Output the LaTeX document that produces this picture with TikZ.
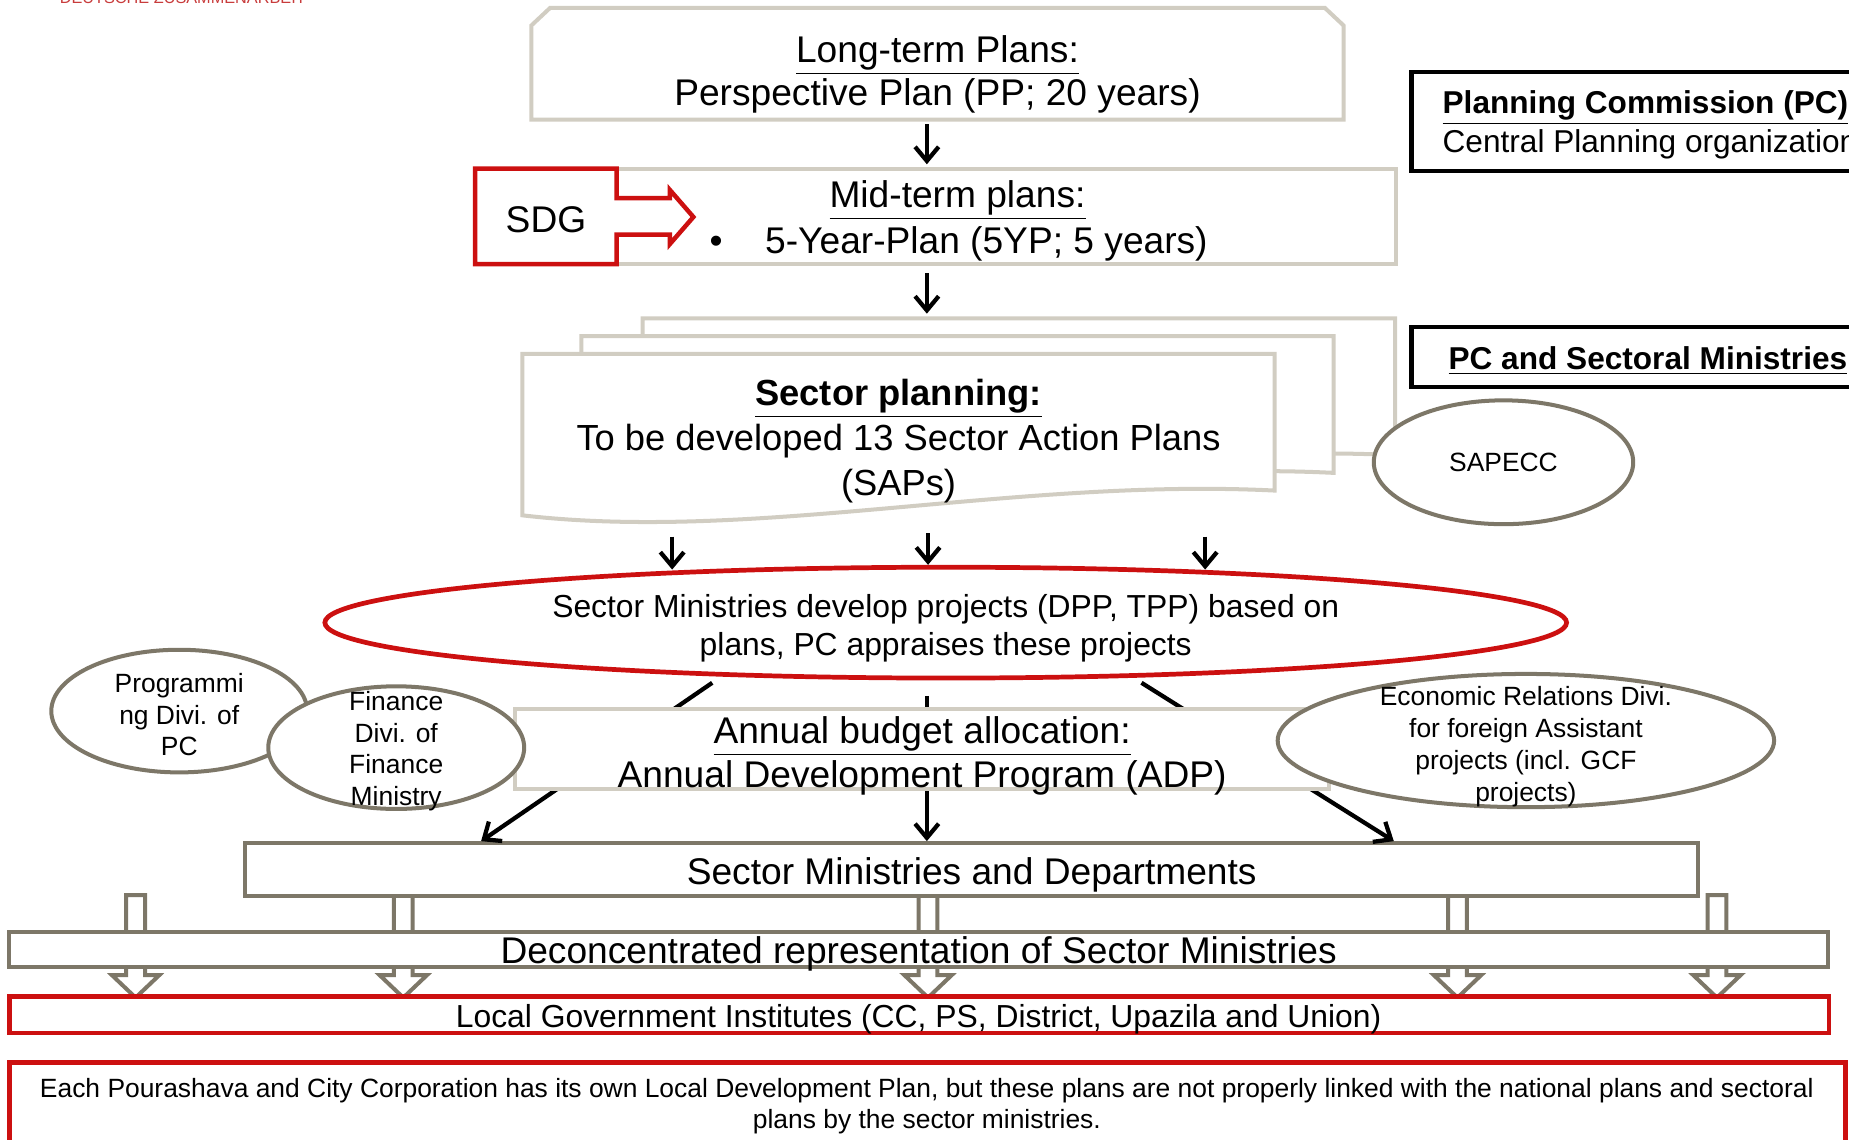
\documentclass[tikz,border=0pt]{standalone}
\usepackage{fontspec}
\setmainfont{Liberation Sans}
\usetikzlibrary{arrows.meta,shapes.geometric}
\definecolor{pale}{RGB}{209,205,194}
\definecolor{taupe}{RGB}{125,119,104}
\definecolor{gizred}{RGB}{204,16,16}
\definecolor{logored}{RGB}{200,60,60}
\begin{document}
\begin{tikzpicture}[x=0.5pt,y=-0.5pt,
  light/.style={draw=pale,line width=1.7pt,fill=white,inner sep=0pt},
  dark/.style={draw=taupe,line width=1.7pt,fill=white,inner sep=0pt},
  redbox/.style={draw=gizred,line width=1.9pt,fill=white,inner sep=0pt},
  oval/.style={ellipse,draw=taupe,line width=1.7pt,fill=white,inner sep=0pt},
  arr/.style={-{Straight Barb[length=6pt,width=10pt]},line width=1.8pt},
  bigtxt/.style={font=\fontsize{15.75}{18.5}\selectfont,align=center},
  medtxt/.style={font=\fontsize{13.5}{16}\selectfont,align=center},
  smalltxt/.style={font=\fontsize{11.2}{13.5}\selectfont,align=center}]
  \useasboundingbox (0,0) rectangle (1568,966);
  \node[anchor=base,text=logored,font=\fontsize{6.9}{7}\selectfont] (logo) at (155,3) {DEUTSCHE ZUSAMMENARBEIT};

  % plans on top
  \node[minimum width=344pt,minimum height=47pt] (long) at (795,54) {};
  \draw[light] (long.south west) -- ([yshift=-7.5pt]long.north west) -- ([xshift=8pt]long.north west)
    -- ([xshift=-8pt]long.north east) -- ([yshift=-7.5pt]long.north east) -- (long.south east) -- cycle;
  \node[bigtxt] (longtxt) at (795,63) {\underline{Long-term Plans:}\\Perspective Plan (PP; 20 years)};
  \node[light,minimum width=357pt,minimum height=40.5pt] (mid) at (827,183.5) {};
  \node[bigtxt] (midhead) at (812,170) {\underline{Mid-term plans:}};
  \node[bigtxt] (midline) at (813,207) {\textbullet\hspace{18pt}5-Year-Plan (5YP; 5 years)};
  \draw[redbox,line join=miter] (403,143) -- (523,143) -- (523,168) -- (568,168) -- (568,161) -- (588,184)
    -- (568,207) -- (568,199) -- (523,199) -- (523,224) -- (403,224) -- cycle;
  \node[bigtxt] (sdg) at (463,186) {SDG};
  \draw[arr] ([xshift=-4.5pt,yshift=-2pt]long.south) -- ([xshift=-4.5pt,yshift=1pt]long.south |- mid.north);

  % sector plans
  \coordinate (stack) at (786,270);
  \draw[arr] ([xshift=-20.5pt,yshift=-3pt]mid.south) -- ([yshift=2pt]stack);
  \draw[light,shift={(102,-30)}] (443,300) -- (1081,300) -- (1081,416) .. controls (860,405) and (640,460) .. (443,437) -- cycle;
  \draw[light,shift={(50,-15)}] (443,300) -- (1081,300) -- (1081,416) .. controls (860,405) and (640,460) .. (443,437) -- cycle;
  \draw[light] (443,300) -- (1081,300) -- (1081,416) .. controls (860,405) and (640,460) .. (443,437) -- cycle;
  \node[bigtxt,font=\fontsize{15.4}{19}\selectfont] (sector) at (762,374) {\textbf{\underline{Sector planning:}}\\To be developed 13 Sector Action Plans\\(SAPs)};
  \node[oval,minimum width=110pt,minimum height=52.5pt,smalltxt] (sapecc) at (1275,392) {SAPECC};

  % who plans
  \node[draw,line width=1.8pt,minimum width=222pt,minimum height=42pt,inner sep=0pt] (pcbox) at (1419,103) {};
  \node[anchor=west,align=left,inner sep=0pt,font=\fontsize{13.4}{16.5}\selectfont] (pctxt) at (1223,106) {\textbf{\underline{Planning Commission (PC)}}\\Central Planning organization};
  \node[draw,line width=1.8pt,minimum width=222pt,minimum height=25.5pt,inner sep=0pt] (pcsec) at (1419,302.5) {};
  \node[anchor=west,inner sep=0pt,font=\fontsize{13.4}{16.5}\selectfont] (pcsectxt) at (1228,306) {\textbf{\underline{PC and Sectoral Ministries}}};

  % down to the local level
  \draw[dark] (107,759) -- (123,759) -- (123,827) -- (135,827) -- (115,846) -- (95,827) -- (107,827) -- cycle;
  \draw[dark] (334,759) -- (350,759) -- (350,827) -- (362,827) -- (342,846) -- (322,827) -- (334,827) -- cycle;
  \draw[dark] (779,759) -- (795,759) -- (795,827) -- (807,827) -- (787,846) -- (767,827) -- (779,827) -- cycle;
  \draw[dark] (1228,759) -- (1244,759) -- (1244,827) -- (1256,827) -- (1236,846) -- (1216,827) -- (1228,827) -- cycle;
  \draw[dark] (1448,759) -- (1464,759) -- (1464,827) -- (1476,827) -- (1456,846) -- (1436,827) -- (1448,827) -- cycle;
  \node[dark,minimum width=616pt,minimum height=22.5pt] (ministries) at (824,737.5) {};
  \node[bigtxt] (mintxt) at (824,742) {Sector Ministries and Departments};
  \node[dark,minimum width=771pt,minimum height=15pt] (deconc) at (779,805) {};
  \node[bigtxt] (deconctxt) at (779,809) {Deconcentrated representation of Sector Ministries};
  \node[redbox,minimum width=771.5pt,minimum height=15.5pt] (local) at (779.5,860.5) {};
  \node[medtxt] (localtxt) at (779,864) {Local Government Institutes (CC, PS, District, Upazila and Union)};
  \node[redbox,minimum width=778.5pt,minimum height=40pt] (note) at (786.5,941) {};
  \node[smalltxt] (notetxt) at (786,938) {Each Pourashava and City Corporation has its own Local Development Plan, but these plans are not properly linked with the national plans and sectoral\\plans by the sector ministries.};

  % projects and budget
  \node[ellipse,draw=gizred,line width=2pt,fill=white,inner sep=0pt,minimum width=526.5pt,minimum height=47pt] (projects) at (802,528) {};
  \node[medtxt] (projtxt) at (802,533) {Sector Ministries develop projects (DPP, TPP) based on\\plans, PC appraises these projects};
  \coordinate (s1) at (570,455);
  \coordinate (s2) at (787,452);
  \coordinate (s3) at (1022,455);
  \draw[arr,shorten >=-2pt] (s1) -- (s1 |- projects.north);
  \draw[arr] (s2) -- (s2 |- projects.north);
  \draw[arr,shorten >=-2pt] (s3) -- (s3 |- projects.north);
  \coordinate (d1) at (604,579);
  \coordinate (d2) at (786,590);
  \coordinate (d3) at (968,579);
  \draw[arr] (d1) -- ([xshift=-208pt]ministries.north);
  \draw[arr] (d2) -- (d2 |- ministries.north);
  \draw[arr] (d3) -- ([xshift=179pt]ministries.north);
  \node[light,minimum width=345pt,minimum height=34pt] (adp) at (782,635) {};
  \node[bigtxt] (adptxt) at (782,641) {\underline{Annual budget allocation:}\\Annual Development Program (ADP)};
  \node[oval,minimum width=108.5pt,minimum height=52pt] (progdiv) at (152,603) {};
  \node[smalltxt] (progtxt) at (152,606) {Programmi\\ng Divi. of\\PC};
  \node[oval,minimum width=108.5pt,minimum height=52pt] (findiv) at (336,634) {};
  \node[smalltxt] (fintxt) at (336,637) {Finance\\Divi. of\\Finance\\Ministry};
  \node[oval,minimum width=210.5pt,minimum height=56.5pt] (erd) at (1294,628) {};
  \node[smalltxt] (erdtxt) at (1294,633) {Economic Relations Divi.\\for foreign Assistant\\projects (incl. GCF\\projects)};
\end{tikzpicture}
\end{document}
